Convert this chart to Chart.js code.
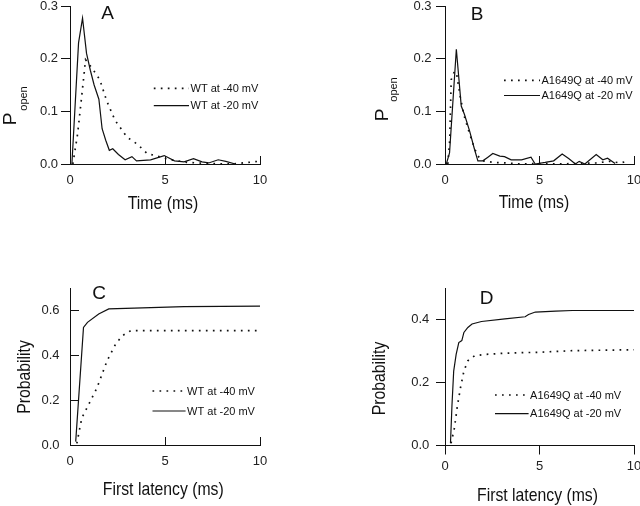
<!DOCTYPE html>
<html>
<head>
<meta charset="utf-8">
<script src="https://cdn.jsdelivr.net/npm/chart.js@4.4.1/dist/chart.umd.min.js"></script>
<style>
  body { margin: 0; background: #fff; }
  #wrap { position: relative; width: 640px; height: 506px; overflow: hidden; }
  canvas { position: absolute; }
</style>
</head>
<body>
<div id="wrap">
  <canvas id="chartA" width="320" height="253" style="left:0;top:0"></canvas>
  <canvas id="chartB" width="320" height="253" style="left:320px;top:0"></canvas>
  <canvas id="chartC" width="320" height="253" style="left:0;top:253px"></canvas>
  <canvas id="chartD" width="320" height="253" style="left:320px;top:253px"></canvas>
</div>
<script>
// Panel A: WT open probability vs time
const tA40 = [0.15, 0.4, 0.59, 0.82, 1.2, 1.57, 1.93, 2.37, 3.0, 3.53, 4.06, 4.78, 5.3, 6.2, 7.3, 8.5, 9.4, 9.9];
const pA40 = [0, 0.057, 0.12, 0.198, 0.18, 0.16, 0.12, 0.083, 0.051, 0.038, 0.02, 0.013, 0.008, 0.003, 0.001, 0, 0.003, 0.005];
const tA20 = [0.1, 0.45, 0.66, 0.87, 1.07, 1.27, 1.52, 1.69, 1.88, 2.07, 2.25, 2.55, 2.9, 3.26, 3.5, 4.24, 4.96, 5.5, 6.0, 6.5, 6.95, 7.3, 7.8, 8.2, 8.7];
const pA20 = [0, 0.23, 0.277, 0.21, 0.178, 0.15, 0.123, 0.067, 0.045, 0.026, 0.029, 0.018, 0.008, 0.014, 0.006, 0.008, 0.016, 0.006, 0.004, 0.01, 0.004, 0.002, 0.008, 0.005, 0];

// Panel B: A1649Q open probability vs time
const tB40 = [0.15, 0.25, 0.33, 0.5, 0.62, 0.79, 1.0, 1.27, 1.54, 1.72, 2.0, 2.6, 3.2, 4.0, 5.0, 6.0, 7.0, 8.0, 8.7, 9.3, 9.7];
const pB40 = [0, 0.045, 0.16, 0.176, 0.17, 0.131, 0.093, 0.061, 0.032, 0.016, 0.006, 0.003, 0.002, 0, 0.001, 0, 0.001, 0.002, 0.005, 0.002, 0.006];
const tB20 = [0.07, 0.24, 0.6, 0.86, 1.03, 1.3, 1.56, 1.74, 2.0, 2.27, 2.53, 2.9, 3.15, 3.5, 4.05, 4.55, 4.77, 5.3, 5.75, 6.2, 6.56, 6.9, 7.1, 7.4, 8.0, 8.35, 8.6, 9.0];
const pB20 = [0, 0.021, 0.218, 0.11, 0.094, 0.063, 0.028, 0.006, 0.006, 0.013, 0.02, 0.015, 0.014, 0.008, 0.008, 0.013, 0, 0.003, 0.006, 0.019, 0.01, 0, 0.005, 0, 0.018, 0.008, 0.011, 0.001];

// Panel C: WT cumulative first latency
const tC40 = [0.36, 0.62, 0.98, 1.42, 1.95, 2.4, 2.75, 3.2, 10];
const pC40 = [0.007, 0.12, 0.18, 0.255, 0.375, 0.45, 0.487, 0.51, 0.51];
const tC20 = [0.3, 0.71, 0.92, 1.51, 2.04, 3.37, 6.0, 10];
const pC20 = [0.015, 0.524, 0.547, 0.584, 0.607, 0.61, 0.617, 0.619];

// Panel D: A1649Q cumulative first latency
const tD40 = [0.32, 0.5, 0.64, 0.82, 1.0, 1.21, 1.57, 2.1, 3.17, 4.96, 6.74, 10];
const pD40 = [0.007, 0.056, 0.12, 0.184, 0.237, 0.27, 0.286, 0.29, 0.294, 0.297, 0.302, 0.305];
const tD20 = [0.29, 0.37, 0.46, 0.59, 0.73, 0.89, 1.0, 1.21, 1.43, 1.93, 3.17, 4.24, 4.42, 4.78, 5.85, 6.74, 10];
const pD20 = [0.007, 0.13, 0.237, 0.29, 0.328, 0.334, 0.36, 0.376, 0.387, 0.395, 0.403, 0.41, 0.417, 0.425, 0.428, 0.43, 0.43];

const xTicks = [0, 5, 10];

const SANS = '"Liberation Sans", Arial, Helvetica, sans-serif';
const INK = '#111';
const SQUEEZE = 0.83; // titles in the figure are set in a condensed face

function pts(xs, ys) {
  return xs.map((x, i) => ({ x: x, y: ys[i] }));
}

function dotted(label, xs, ys) {
  return { label: label, data: pts(xs, ys), borderColor: INK, borderWidth: 1.7,
           borderDash: [1.7, 5.3], pointRadius: 0, tension: 0, fill: false };
}
function solid(label, xs, ys) {
  return { label: label, data: pts(xs, ys), borderColor: INK, borderWidth: 1.2,
           pointRadius: 0, tension: 0, fill: false };
}

function narrowText(ctx, text, x, y, rotated) {
  ctx.save();
  ctx.translate(x, y);
  if (rotated) ctx.rotate(-Math.PI / 2);
  ctx.scale(SQUEEZE, 1);
  ctx.fillText(text, 0, 0);
  ctx.restore();
}

// letter, legend, axis titles drawn on top
const decor = {
  id: 'decor',
  afterDraw(chart, args, o) {
    const ctx = chart.ctx;
    ctx.save();
    ctx.fillStyle = INK;
    ctx.textBaseline = 'middle';

    ctx.font = '19px ' + SANS;
    ctx.textAlign = 'center';
    ctx.fillText(o.letter, o.letterAt[0], o.letterAt[1]);

    const lg = o.legend;
    chart.data.datasets.forEach((ds, i) => {
      const y = lg.y[i];
      ctx.beginPath();
      ctx.setLineDash(ds.borderDash || []);
      ctx.lineWidth = ds.borderWidth;
      ctx.strokeStyle = ds.borderColor;
      ctx.moveTo(lg.x0, y);
      ctx.lineTo(lg.x1, y);
      ctx.stroke();
      ctx.setLineDash([]);
      ctx.font = '11px ' + SANS;
      ctx.textAlign = 'left';
      ctx.fillText(ds.label, lg.x1 + 1.5, y + 0.5);
    });

    ctx.font = '19px ' + SANS;
    ctx.textAlign = 'center';
    narrowText(ctx, o.xTitle, o.xTitleAt[0], o.xTitleAt[1], false);

    if (o.popen) {
      ctx.save();
      ctx.translate(o.pAt[0], o.pAt[1]);
      ctx.rotate(-Math.PI / 2);
      ctx.font = '19px ' + SANS;
      ctx.fillText('P', 0, 0);
      ctx.restore();
      ctx.save();
      ctx.translate(o.subAt[0], o.subAt[1]);
      ctx.rotate(-Math.PI / 2);
      ctx.font = '11px ' + SANS;
      ctx.fillText('open', 0, 0);
      ctx.restore();
    } else {
      ctx.font = '19px ' + SANS;
      narrowText(ctx, o.yTitle, o.yTitleAt[0], o.yTitleAt[1], true);
    }
    ctx.restore();
  }
};

function makePanel(id, datasets, p) {
  return new Chart(document.getElementById(id), {
    type: 'line',
    data: { datasets: datasets },
    options: {
      responsive: false,
      animation: false,
      devicePixelRatio: 1,
      layout: { autoPadding: false, padding: { left: 0, top: p.top, right: p.right, bottom: 0 } },
      plugins: { legend: { display: false }, tooltip: { enabled: false }, decor: p.decor },
      scales: {
        x: {
          type: 'linear', min: 0, max: 10,
          border: { color: INK, width: 1 },
          grid: { drawOnChartArea: false, color: INK, tickLength: p.xTick },
          ticks: { stepSize: 5, padding: p.xPad, color: '#222', maxRotation: 0,
                   font: { family: SANS, size: 13 },
                   callback: v => xTicks.includes(v) ? String(v) : '' },
          afterFit(s) { s.height = p.xHeight; s.paddingLeft = 0; s.paddingRight = 0; }
        },
        y: {
          min: 0, max: p.yMax,
          border: { color: INK, width: 1 },
          grid: { drawOnChartArea: false, color: INK, tickLength: p.yTick },
          ticks: { stepSize: p.yStep, includeBounds: false, padding: p.yPad, color: '#222',
                   font: { family: SANS, size: 13 },
                   callback: v => v.toFixed(1) },
          afterFit(s) { s.width = p.yWidth; s.paddingTop = 0; s.paddingBottom = 0; }
        }
      }
    },
    plugins: [decor]
  });
}

makePanel('chartA', [dotted('WT at -40 mV', tA40, pA40), solid('WT at -20 mV', tA20, pA20)], {
  top: 6, right: 60, xHeight: 89, yWidth: 70, yMax: 0.3, yStep: 0.1,
  xTick: -8, xPad: 16.4, yTick: 9, yPad: 3,
  decor: { letter: 'A', letterAt: [107.7, 13.5],
           legend: { x0: 153.8, x1: 189, y: [88.4, 105.6] },
           xTitle: 'Time (ms)', xTitleAt: [163, 204],
           popen: true, pAt: [11, 119], subAt: [23.5, 98.5] }
});

makePanel('chartB', [dotted('A1649Q at -40 mV', tB40, pB40), solid('A1649Q at -20 mV', tB20, pB20)], {
  top: 6, right: 6, xHeight: 89, yWidth: 125, yMax: 0.3, yStep: 0.1,
  xTick: -8, xPad: 16.4, yTick: 9, yPad: 4.5,
  decor: { letter: 'B', letterAt: [157, 15],
           legend: { x0: 184, x1: 220, y: [80.3, 95.5] },
           xTitle: 'Time (ms)', xTitleAt: [214, 203],
           popen: true, pAt: [62.6, 115], subAt: [74, 89.5] }
});

makePanel('chartC', [dotted('WT at -40 mV', tC40, pC40), solid('WT at -20 mV', tC20, pC20)], {
  top: 35, right: 60, xHeight: 61, yWidth: 70, yMax: 0.7, yStep: 0.2,
  xTick: -8, xPad: 16.9, yTick: -9, yPad: 19.5,
  decor: { letter: 'C', letterAt: [99, 40.5],
           legend: { x0: 152.5, x1: 185.6, y: [138, 158] },
           xTitle: 'First latency (ms)', xTitleAt: [163.3, 237],
           popen: false, yTitle: 'Probability', yTitleAt: [25, 124] }
});

makePanel('chartD', [dotted('A1649Q at -40 mV', tD40, pD40), solid('A1649Q at -20 mV', tD20, pD20)], {
  top: 35.5, right: 6, xHeight: 60.5, yWidth: 125, yMax: 0.5, yStep: 0.2,
  xTick: 9, xPad: 3.7, yTick: 9, yPad: 6.7,
  decor: { letter: 'D', letterAt: [166.5, 46],
           legend: { x0: 175, x1: 208.6, y: [142, 160.6] },
           xTitle: 'First latency (ms)', xTitleAt: [217.5, 242.5],
           popen: false, yTitle: 'Probability', yTitleAt: [60, 125.5] }
});
</script>
</body>
</html>
